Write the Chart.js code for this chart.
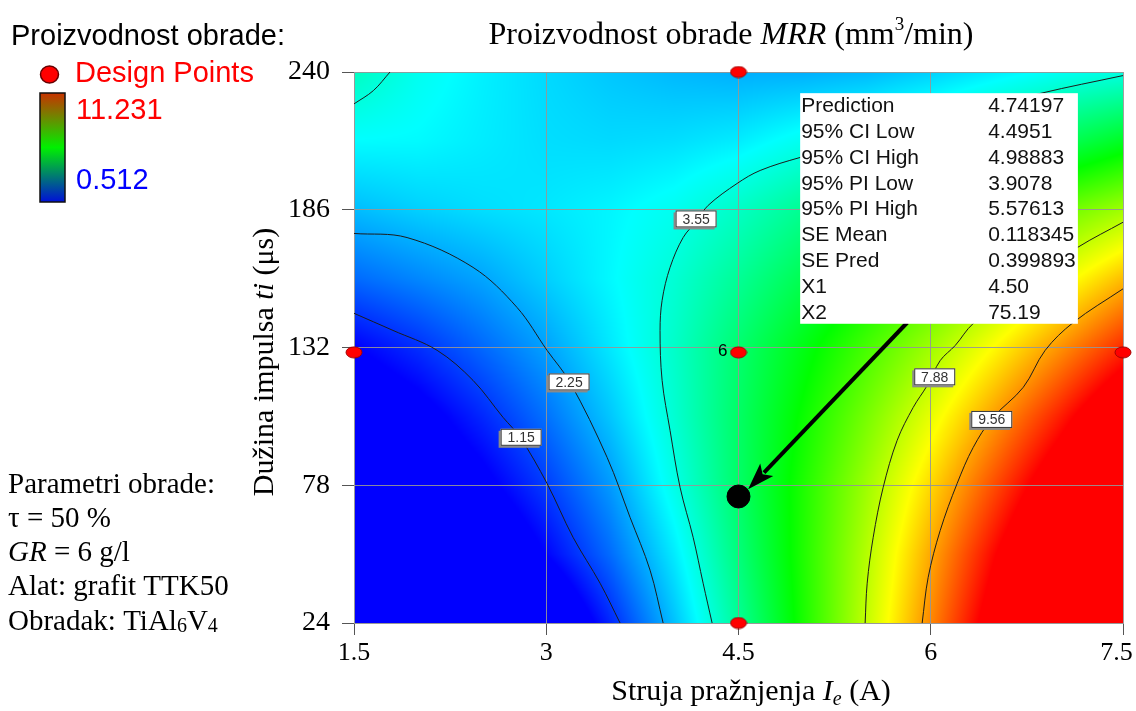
<!DOCTYPE html>
<html>
<head>
<meta charset="utf-8">
<title>Proizvodnost obrade MRR</title>
<script src="https://cdn.jsdelivr.net/npm/chart.js@4.4.1/dist/chart.umd.min.js"></script>
<style>
  html, body { margin: 0; padding: 0; background: #fff; }
</style>
</head>
<body>
<canvas id="mrr" width="1136" height="711"></canvas>
<script>
const currentA = [1.5, 2, 2.5, 3, 3.5, 4, 4.5, 5, 5.5, 6, 6.5, 7, 7.5];
const pulseUs = [24, 51, 78, 105, 132, 159, 186, 213, 240];
const mrrAt24  = [-4.9, -3.6, -2.2, -0.69, 0.90, 2.55, 4.29, 6.11, 7.92, 9.81, 11.74, 13.7, 15.7];
const mrrAt51  = [-2.2, -1.4, -0.5, 0.52, 1.64, 2.99, 4.58, 6.18, 7.77, 9.47, 11.2, 12.9, 14.6];
const mrrAt78  = [-0.9, -0.4, 0.29, 1.14, 2.13, 3.43, 4.79, 6.16, 7.53, 8.96, 10.44, 11.95, 13.5];
const mrrAt105 = [-0.3, 0.2, 0.91, 1.70, 2.60, 3.66, 4.81, 5.96, 7.12, 8.31, 9.59, 10.9, 12.3];
const mrrAt132 = [0.48, 0.99, 1.60, 2.21, 2.96, 3.76, 4.71, 5.65, 6.60, 7.55, 8.59, 9.67, 10.8];
const mrrAt159 = [1.62, 1.93, 2.24, 2.69, 3.14, 3.64, 4.30, 5.03, 5.81, 6.56, 7.38, 8.31, 9.25];
const mrrAt186 = [2.49, 2.7, 2.85, 2.95, 3.1, 3.35, 3.8, 4.35, 4.95, 5.6, 6.3, 6.95, 7.55];
const mrrAt213 = [3.18, 3.15, 3.0, 2.85, 2.8, 2.85, 3.0, 3.35, 3.6, 3.9, 4.4, 4.9, 5.5];
const mrrAt240 = [3.85, 3.35, 3.05, 2.8, 2.6, 2.45, 2.35, 2.35, 2.45, 2.7, 3.0, 3.3, 3.5];
const mrrRows = [mrrAt24, mrrAt51, mrrAt78, mrrAt105, mrrAt132, mrrAt159, mrrAt186, mrrAt213, mrrAt240];
const mrrMin = 0.512;
const mrrMax = 11.231;

const xTicks = [1.5, 3, 4.5, 6, 7.5];
const xTickLabels = ['1.5', '3', '4.5', '6', '7.5'];
const yTicks = [24, 78, 132, 186, 240];
const yTickLabels = ['24', '78', '132', '186', '240'];

const designX = [4.5, 1.5, 4.5, 7.5, 4.5];
const designY = [240, 130.1, 130.1, 130.1, 24];

// contour lines (Ie, ti)
const contour115 = [[1.5,145.4],[1.804,138.7],[2.148,130.9],[2.429,119.1],[2.663,104.6],[2.796,96.8],[3.006,78.7],[3.209,57.6],[3.42,39.6],[3.576,24]];
const contour225 = [[1.5,176.7],[1.914,175.1],[2.429,163.4],[2.772,147.7],[3.006,130.9],[3.186,118.3],[3.475,88.9],[3.654,65.4],[3.81,44.7],[3.912,24]];
const contour355 = [[4.294,24],[4.224,39.6],[4.146,57.6],[4.044,77.2],[3.966,99.5],[3.904,119.1],[3.888,138.7],[3.904,150.5],[3.966,163.4],[4.068,175.1],[4.177,181.8],[4.263,187.7],[4.489,196.3],[4.669,201.4],[4.981,206.5],[5.918,219.4],[6.855,231.6],[7.5,238.6]];
const contour355Corner = [[1.5,227.5],[1.651,232.7],[1.781,240]];
const contour788 = [[5.488,24],[5.504,39.6],[5.551,57.6],[5.629,77.2],[5.738,95.6],[5.863,108.5],[5.972,117.1],[6.074,126.9],[6.191,132.8],[6.331,141.4],[6.737,157.1],[7.148,171.3],[7.5,181.1]];
const contour956 = [[5.933,24],[5.98,41.9],[6.074,60.3],[6.206,78.7],[6.331,92.8],[6.479,104.2],[6.722,116.4],[6.893,130.9],[7.112,141.8],[7.5,155]];

const contourLevels = ['1.15', '2.25', '3.55', '7.88', '9.56'];
const levelLabelX = [2.804, 3.178, 4.169, 6.031, 6.476];
const levelLabelY = [96.8, 118.5, 182.4, 120.5, 103.8];

const predictionX = 4.5;
const predictionY = 73.6;
const infoNames = ['Prediction', '95% CI Low', '95% CI High', '95% PI Low', '95% PI High', 'SE Mean', 'SE Pred', 'X1', 'X2'];
const infoValues = ['4.74197', '4.4951', '4.98883', '3.9078', '5.57613', '0.118345', '0.399893', '4.50', '75.19'];

const serif = '"Liberation Serif", "Times New Roman", serif';
const sans = '"Liberation Sans", Arial, sans-serif';

const stops = [[0, 0, 255], [0, 255, 255], [0, 255, 0], [255, 255, 0], [255, 0, 0]];

function rgbFor(v) {
    let t = (v - mrrMin) / (mrrMax - mrrMin);
    t = Math.min(1, Math.max(0, t)) * 4;
    const i = Math.min(3, Math.floor(t));
    const f = t - i;
    const a = stops[i], b = stops[i + 1];
    return [a[0] + (b[0] - a[0]) * f, a[1] + (b[1] - a[1]) * f, a[2] + (b[2] - a[2]) * f];
}

function locate(arr, v) {
    let i = 0;
    while (i < arr.length - 2 && v > arr[i + 1]) i++;
    const f = Math.min(1, Math.max(0, (v - arr[i]) / (arr[i + 1] - arr[i])));
    return [i, f];
}

function mrrAt(xv, yv) {
    const [i, fx] = locate(currentA, xv);
    const [j, fy] = locate(pulseUs, yv);
    const r0 = mrrRows[j], r1 = mrrRows[j + 1];
    const a = r0[i] + (r0[i + 1] - r0[i]) * fx;
    const b = r1[i] + (r1[i + 1] - r1[i]) * fx;
    return a + (b - a) * fy;
}

// write a line made of several font runs
function drawRuns(ctx, runs, x, y, align) {
    let total = 0;
    runs.forEach((r) => {
        ctx.font = r.font;
        r.w = ctx.measureText(r.t).width;
        total += r.w;
    });
    let cx = align === 'center' ? x - total / 2 : x;
    ctx.textAlign = 'left';
    ctx.textBaseline = 'alphabetic';
    runs.forEach((r) => {
        ctx.font = r.font;
        ctx.fillText(r.t, cx, y + (r.dy || 0));
        cx += r.w;
    });
}

const heatmap = {
    id: 'heatmap',
    beforeDraw(chart) {
        const {ctx, chartArea: a, scales: {x, y}} = chart;
        const left = Math.round(a.left), top = Math.round(a.top);
        const w = Math.round(a.right) - left, h = Math.round(a.bottom) - top;
        const img = ctx.createImageData(w, h);
        for (let r = 0; r < h; r++) {
            const yv = y.getValueForPixel(top + r + 0.5);
            for (let c = 0; c < w; c++) {
                const xv = x.getValueForPixel(left + c + 0.5);
                const col = rgbFor(mrrAt(xv, yv));
                const k = (r * w + c) * 4;
                img.data[k] = col[0];
                img.data[k + 1] = col[1];
                img.data[k + 2] = col[2];
                img.data[k + 3] = 255;
            }
        }
        ctx.putImageData(img, left, top);
    }
};

const overlay = {
    id: 'overlay',
    afterDraw(chart) {
        const {ctx, scales: {x, y}} = chart;
        ctx.save();

        // contour value labels
        ctx.font = `14px ${sans}`;
        contourLevels.forEach((lv, k) => {
            const px = x.getPixelForValue(levelLabelX[k]);
            const py = y.getPixelForValue(levelLabelY[k]);
            const w = 41, h = 17;
            ctx.fillStyle = '#8a8a8a';
            ctx.fillRect(px - w / 2 - 2, py - h / 2 + 2, w, h);
            ctx.fillStyle = '#fff';
            ctx.fillRect(px - w / 2, py - h / 2, w, h);
            ctx.strokeStyle = '#333';
            ctx.lineWidth = 1;
            ctx.strokeRect(px - w / 2 + 0.5, py - h / 2 + 0.5, w - 1, h - 1);
            ctx.fillStyle = '#333';
            ctx.textAlign = 'center';
            ctx.textBaseline = 'middle';
            ctx.fillText(lv, px, py + 1);
        });

        // centre point replicate count
        ctx.fillStyle = '#000';
        ctx.font = `17px ${sans}`;
        ctx.textAlign = 'right';
        ctx.textBaseline = 'alphabetic';
        ctx.fillText('6', x.getPixelForValue(4.5) - 11, y.getPixelForValue(130.1) + 4);

        // arrow from the info box to the predicted point
        const sx = x.getPixelForValue(5.817), sy = y.getPixelForValue(141.8);
        const tx = x.getPixelForValue(4.575), ty = y.getPixelForValue(76.4);
        const ang = Math.atan2(ty - sy, tx - sx);
        const cs = Math.cos(ang), sn = Math.sin(ang);
        const bx = tx - 27 * cs, by = ty - 27 * sn;
        ctx.strokeStyle = '#000';
        ctx.lineWidth = 4;
        ctx.beginPath();
        ctx.moveTo(sx, sy);
        ctx.lineTo(bx + 4 * cs, by + 4 * sn);
        ctx.stroke();
        ctx.beginPath();
        ctx.moveTo(tx, ty);
        ctx.lineTo(bx + 9 * sn, by - 9 * cs);
        ctx.lineTo(bx + 6 * cs, by + 6 * sn);
        ctx.lineTo(bx - 9 * sn, by + 9 * cs);
        ctx.closePath();
        ctx.fillStyle = '#000';
        ctx.fill();

        // info box
        const bl = x.getPixelForValue(4.981), br = x.getPixelForValue(7.148);
        const bt = y.getPixelForValue(231.7), bb = y.getPixelForValue(141.3);
        ctx.fillStyle = '#fff';
        ctx.fillRect(bl, bt, br - bl, bb - bt);
        ctx.fillStyle = '#111';
        ctx.font = `21px ${sans}`;
        ctx.textAlign = 'left';
        infoNames.forEach((name, k) => {
            const by2 = bt + 19 + k * 25.8;
            ctx.fillText(name, bl + 1, by2);
            ctx.fillText(infoValues[k], bl + 188, by2);
        });

        // chart title
        ctx.fillStyle = '#000';
        drawRuns(ctx, [
            {t: 'Proizvodnost obrade ', font: `32px ${serif}`},
            {t: 'MRR', font: `italic 32px ${serif}`},
            {t: ' (mm', font: `32px ${serif}`},
            {t: '3', font: `19px ${serif}`, dy: -14},
            {t: '/min)', font: `32px ${serif}`}
        ], 731, 44, 'center');

        // axis titles
        drawRuns(ctx, [
            {t: 'Struja pražnjenja ', font: `30px ${serif}`},
            {t: 'I', font: `italic 30px ${serif}`},
            {t: 'e', font: `italic 20px ${serif}`, dy: 5},
            {t: ' (A)', font: `30px ${serif}`}
        ], 751, 700, 'center');
        ctx.save();
        ctx.translate(273, 362);
        ctx.rotate(-Math.PI / 2);
        drawRuns(ctx, [
            {t: 'Dužina impulsa ', font: `30px ${serif}`},
            {t: 'ti', font: `italic 30px ${serif}`},
            {t: ' (μs)', font: `30px ${serif}`}
        ], 0, 0, 'center');
        ctx.restore();

        // legend block, top left
        ctx.fillStyle = '#000';
        ctx.font = `29px ${sans}`;
        ctx.fillText('Proizvodnost obrade:', 11, 45);
        ctx.beginPath();
        ctx.ellipse(49.5, 74.5, 9, 8.5, 0, 0, Math.PI * 2);
        ctx.fillStyle = '#ff0000';
        ctx.fill();
        ctx.strokeStyle = '#600';
        ctx.lineWidth = 1.5;
        ctx.stroke();
        ctx.fillStyle = '#ff0000';
        ctx.fillText('Design Points', 75, 82);
        const grad = ctx.createLinearGradient(0, 93, 0, 202);
        grad.addColorStop(0, '#c83200');
        grad.addColorStop(0.5, '#00f000');
        grad.addColorStop(1, '#0010d8');
        ctx.fillStyle = grad;
        ctx.fillRect(40, 93, 25, 109);
        ctx.strokeStyle = '#111';
        ctx.lineWidth = 1.5;
        ctx.strokeRect(40, 93, 25, 109);
        ctx.fillStyle = '#ff0000';
        ctx.fillText(mrrMax.toFixed(3), 76, 119);
        ctx.fillStyle = '#0000ff';
        ctx.fillText(mrrMin.toFixed(3), 76, 189);

        // machining parameters, bottom left
        ctx.fillStyle = '#000';
        const f = `29px ${serif}`;
        const fs = `20px ${serif}`;
        drawRuns(ctx, [{t: 'Parametri obrade:', font: f}], 8, 493);
        drawRuns(ctx, [{t: 'τ = 50 %', font: f}], 8, 527);
        drawRuns(ctx, [{t: 'GR', font: `italic 29px ${serif}`}, {t: ' = 6 g/l', font: f}], 8, 561);
        drawRuns(ctx, [{t: 'Alat: grafit TTK50', font: f}], 8, 595);
        drawRuns(ctx, [
            {t: 'Obradak: TiAl', font: f},
            {t: '6', font: fs, dy: 2},
            {t: 'V', font: f},
            {t: '4', font: fs, dy: 2}
        ], 8, 630);

        ctx.restore();
    }
};

// red elliptic marker used for the design points
const designMarker = document.createElement('canvas');
designMarker.width = 18;
designMarker.height = 13;
const mg = designMarker.getContext('2d');
mg.beginPath();
mg.ellipse(9, 6.5, 8, 5.5, 0, 0, Math.PI * 2);
mg.fillStyle = '#ff0000';
mg.fill();
mg.strokeStyle = '#a00000';
mg.lineWidth = 1;
mg.stroke();

function contourSet(points) {
    return {
        data: points.map((p) => ({x: p[0], y: p[1]})),
        showLine: true,
        borderColor: '#1c1c1c',
        borderWidth: 1,
        pointRadius: 0,
        tension: 0.35
    };
}

const ctx = document.querySelector('#mrr');
new Chart(ctx, {
    type: 'scatter',
    data: {
        datasets: [
            {
                label: 'Design Points',
                data: designX.map((v, i) => ({x: v, y: designY[i]})),
                pointStyle: designMarker,
                clip: false
            },
            {
                label: 'Prediction',
                data: [{x: predictionX, y: predictionY}],
                pointRadius: 11.5,
                backgroundColor: '#000',
                borderColor: '#000',
                clip: false
            },
            contourSet(contour115),
            contourSet(contour225),
            contourSet(contour355),
            contourSet(contour355Corner),
            contourSet(contour788),
            contourSet(contour956)
        ]
    },
    options: {
        responsive: false,
        devicePixelRatio: 1,
        animation: false,
        events: [],
        layout: {padding: {left: 264, right: 13, top: 72, bottom: 38}},
        plugins: {legend: {display: false}, tooltip: {enabled: false}},
        scales: {
            x: {
                type: 'linear',
                min: 1.5,
                max: 7.5,
                afterBuildTicks: (s) => { s.ticks = xTicks.map((v) => ({value: v})); },
                afterFit: (s) => { s.height = 50; s.paddingLeft = 0; s.paddingRight = 0; },
                ticks: {
                    // the last label sits a little left of its tick so it stays inside the page
                    callback: (v, i) => xTickLabels[i] + (i === xTicks.length - 1 ? '\u2002' : ''),
                    font: {family: serif, size: 26},
                    color: '#000',
                    padding: 3,
                    maxRotation: 0,
                    autoSkip: false
                },
                grid: {color: 'rgba(150,150,150,0.9)', tickColor: '#555', tickLength: 12},
                border: {color: '#999'}
            },
            y: {
                type: 'linear',
                min: 24,
                max: 240,
                afterBuildTicks: (s) => { s.ticks = yTicks.map((v) => ({value: v})); },
                afterFit: (s) => { s.width = 90; s.paddingTop = 0; s.paddingBottom = 0; },
                ticks: {
                    callback: (v, i) => yTickLabels[i],
                    font: {family: serif, size: 28},
                    color: '#000',
                    padding: 12,
                    autoSkip: false
                },
                grid: {color: 'rgba(150,150,150,0.9)', tickColor: '#555', tickLength: 12},
                border: {color: '#999'}
            }
        }
    },
    plugins: [heatmap, overlay]
});
</script>
</body>
</html>
